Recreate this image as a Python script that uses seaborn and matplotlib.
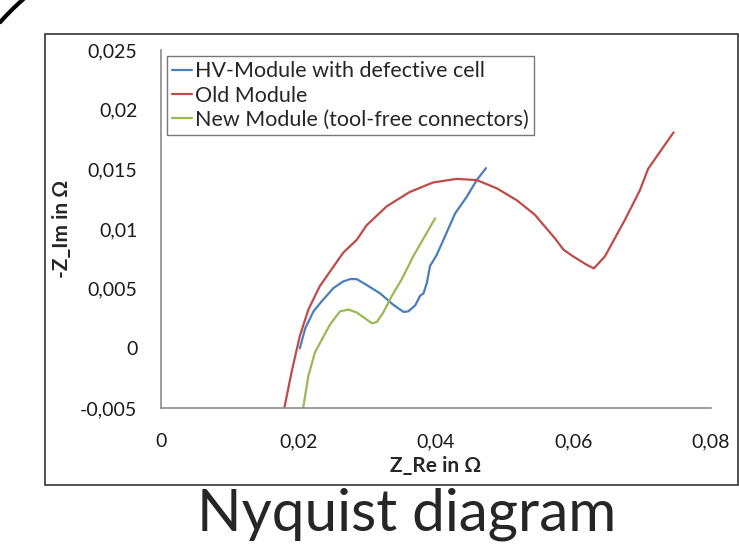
import numpy as np
import pandas as pd
import matplotlib.pyplot as plt
import matplotlib.patches as patches
import seaborn as sns

# ==========================
# Data
# ==========================
labels = ["HV-Module with defective cell", "Old Module", "New Module (tool-free connectors)"]

hv_x = [0.0202, 0.0210, 0.0222, 0.0234, 0.0251, 0.0265, 0.0275, 0.0285, 0.02995, 0.0319,
        0.0338, 0.0353, 0.0360, 0.0370, 0.0377, 0.0382, 0.0387, 0.03915, 0.0401, 0.0413,
        0.0428, 0.0445, 0.04595, 0.0473]
hv_y = [0.0000, 0.0017, 0.0031, 0.00395, 0.00505, 0.0056, 0.0058, 0.0058, 0.0053, 0.0046,
        0.00365, 0.00305, 0.0031, 0.0036, 0.0044, 0.0046, 0.0055, 0.0069, 0.0078, 0.00935,
        0.0113, 0.0127, 0.0141, 0.0151]

old_x = [0.01795, 0.0190, 0.0202, 0.02145, 0.0231, 0.0265, 0.0285, 0.0299, 0.03285, 0.0362,
         0.0396, 0.0430, 0.04595, 0.0489, 0.0518, 0.0544, 0.05735, 0.0586, 0.0600, 0.06195,
         0.0630, 0.0646, 0.0675, 0.0697, 0.0709, 0.0746]
old_y = [-0.005, -0.002, 0.00103, 0.00325, 0.0052, 0.0080, 0.0091, 0.0103, 0.0119, 0.0131,
         0.0139, 0.0142, 0.0141, 0.0134, 0.0124, 0.0112, 0.0092, 0.00825, 0.0077, 0.0070,
         0.0067, 0.0077, 0.01075, 0.01325, 0.01505, 0.0181]

new_x = [0.0207, 0.02145, 0.0224, 0.0246, 0.02605, 0.0273, 0.0285, 0.0307, 0.0314, 0.03235,
         0.0336, 0.0350, 0.0367, 0.0399]
new_y = [-0.00495, -0.0023, -0.00035, 0.0020, 0.0031, 0.00325, 0.0030, 0.0021, 0.0022, 0.0030,
         0.0044, 0.00575, 0.0077, 0.0109]

x_ticks = [0, 0.02, 0.04, 0.06, 0.08]
x_ticklabels = ["0", "0,02", "0,04", "0,06", "0,08"]
y_ticks = [-0.005, 0, 0.005, 0.01, 0.015, 0.02, 0.025]
y_ticklabels = ["-0,005", "0", "0,005", "0,01", "0,015", "0,02", "0,025"]

# ==========================
# Long table for seaborn
# ==========================
frames = []
for name, xs, ys in zip(labels, [hv_x, old_x, new_x], [hv_y, old_y, new_y]):
    frames.append(pd.DataFrame({"x": xs, "y": ys, "series": name}))
df = pd.concat(frames, ignore_index=True)

palette = {labels[0]: "#4A7EBB", labels[1]: "#BE4B48", labels[2]: "#98B954"}

# ==========================
# Plot
# ==========================
sns.set_style("white")
plt.rcParams["font.family"] = ["Lato", "DejaVu Sans"]

W, H = 739, 545
fig = plt.figure(figsize=(W / 100, H / 100), dpi=100)
ax = fig.add_axes([161 / W, 1 - 408 / H, (710.7 - 161) / W, (408 - 50) / H])

sns.lineplot(
    data=df, x="x", y="y", hue="series", palette=palette,
    sort=False, estimator=None, linewidth=1.6, ax=ax
)

ax.set_xlim(0, 0.08)
ax.set_ylim(-0.005, 0.025)
ax.set_xticks(x_ticks)
ax.set_xticklabels(x_ticklabels)
ax.set_yticks(y_ticks)
ax.set_yticklabels(y_ticklabels)

for side in ["top", "right"]:
    ax.spines[side].set_visible(False)
for side in ["left", "bottom"]:
    ax.spines[side].set_color("#8C8C8C")
    ax.spines[side].set_linewidth(1.2)

ax.tick_params(axis="both", direction="out", length=6, width=1.2, color="#8C8C8C",
               labelsize=14, labelcolor="#1a1a1a")
ax.tick_params(axis="y", pad=11)
ax.tick_params(axis="x", pad=12)

ax.set_xlabel("Z_Re in Ω", fontsize=15, fontweight="bold", labelpad=4)
ax.set_ylabel("-Z_Im in Ω", fontsize=15, fontweight="bold", labelpad=6)

leg = ax.legend(
    loc="upper left", bbox_to_anchor=(167 / W, 1 - 56 / H), bbox_transform=fig.transFigure,
    borderaxespad=0, fontsize=15.5, frameon=True, fancybox=False, handlelength=0.9,
    handletextpad=0.15, labelspacing=0.2, borderpad=0.25
)
leg.get_frame().set_edgecolor("#555555")
leg.get_frame().set_linewidth(1.0)
for line in leg.get_lines():
    line.set_linewidth(1.6)

# outer frame and caption
fig.patches.append(patches.Rectangle(
    (45 / W, 1 - 485 / H), (738 - 45) / W, (485 - 34) / H,
    transform=fig.transFigure, fill=False, edgecolor="#333333", linewidth=1.2
))
fig.text(407 / W, 1 - 514 / H, "Nyquist diagram", ha="center", va="center", fontsize=42)

# piece of a round shape in the top-left corner
cx, cy, r = 200, 200, 267.5
a0 = np.arctan2(22 - cy, 0 - cx)
a1 = np.arctan2(-4 - cy, 26 - cx)
t = np.linspace(a0, a1, 40)
fig.lines.append(plt.Line2D(
    (cx + r * np.cos(t)) / W, 1 - (cy + r * np.sin(t)) / H,
    transform=fig.transFigure, color="black", linewidth=3
))

plt.savefig("out.png", dpi=100)
